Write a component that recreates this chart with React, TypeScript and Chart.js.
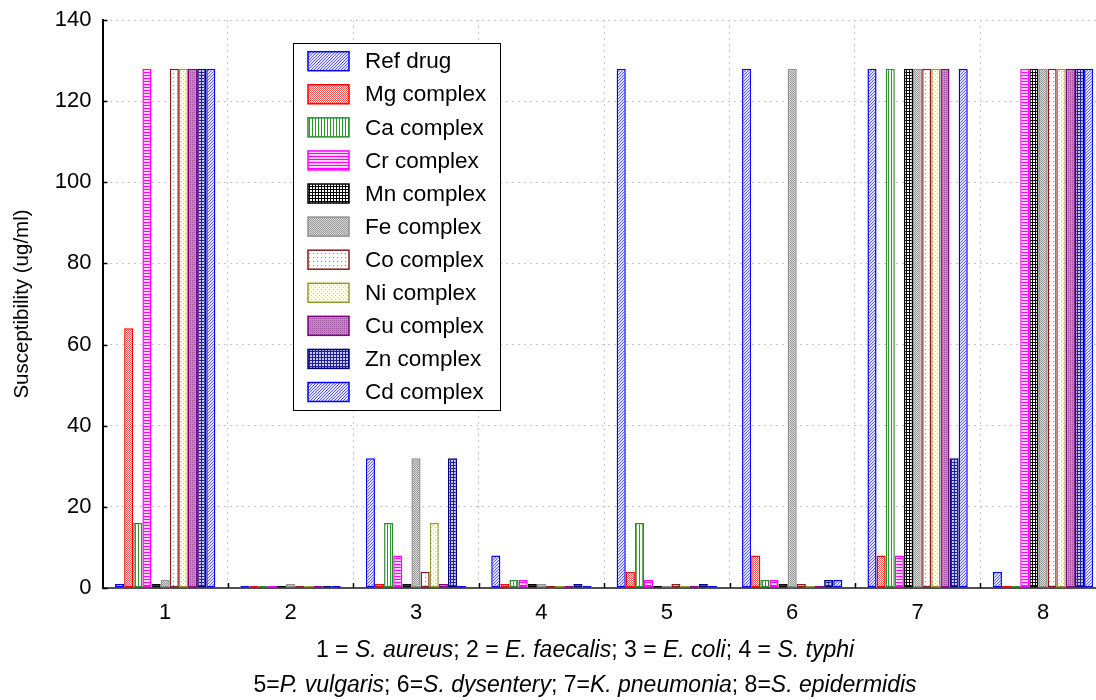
import React, { useEffect, useRef } from "react";
import { Chart, registerables } from "chart.js";

Chart.register(...registerables);

const categories = ["1", "2", "3", "4", "5", "6", "7", "8"];
const seriesLabels = [
  "Ref drug", "Mg complex", "Ca complex", "Cr complex", "Mn complex", "Fe complex",
  "Co complex", "Ni complex", "Cu complex", "Zn complex", "Cd complex",
];
const refDrug = [1, 0.5, 32, 8, 128, 128, 128, 4];
const mgComplex = [64, 0.5, 1, 1, 4, 8, 8, 0.5];
const caComplex = [16, 0.5, 16, 2, 16, 2, 128, 0.5];
const crComplex = [128, 0.5, 8, 2, 2, 2, 8, 128];
const mnComplex = [1, 0.5, 1, 1, 0.5, 1, 128, 128];
const feComplex = [2, 1, 32, 1, 0.5, 128, 128, 128];
const coComplex = [128, 0.5, 4, 0.5, 1, 1, 128, 128];
const niComplex = [128, 0.5, 16, 0.5, 0.5, 0.5, 128, 128];
const cuComplex = [128, 0.5, 1, 0.5, 0.5, 0.5, 128, 128];
const znComplex = [128, 0.5, 32, 1, 1, 2, 32, 128];
const cdComplex = [128, 0.5, 0.5, 0.5, 0.5, 2, 128, 128];
const seriesValues = [
  refDrug, mgComplex, caComplex, crComplex, mnComplex, feComplex,
  coComplex, niComplex, cuComplex, znComplex, cdComplex,
];
const yTitle = "Susceptibility (ug/ml)";
const xTitleLine1: [string, boolean][] = [
  ["1 = ", false], ["S. aureus", true], ["; 2 = ", false], ["E. faecalis", true],
  ["; 3 = ", false], ["E. coli", true], ["; 4 = ", false], ["S. typhi", true],
];
const xTitleLine2: [string, boolean][] = [
  ["5=", false], ["P. vulgaris", true], ["; 6=", false], ["S. dysentery", true],
  ["; 7=", false], ["K. pneumonia", true], ["; 8=", false], ["S. epidermidis", true],
];

const FONT = "'Liberation Sans', Arial, sans-serif";

function makePattern(size: number, bg: string, draw: (c: CanvasRenderingContext2D) => void) {
  const cv = document.createElement("canvas");
  cv.width = size;
  cv.height = size;
  const c = cv.getContext("2d")!;
  c.fillStyle = bg;
  c.fillRect(0, 0, size, size);
  draw(c);
  return c.createPattern(cv, "repeat")!;
}

function buildStyles() {
  const px = (c: CanvasRenderingContext2D, col: string, pts: number[][]) => {
    c.fillStyle = col;
    pts.forEach(([x, y]) => c.fillRect(x, y, 1, 1));
  };
  const diagBlue = () =>
    makePattern(3, "#e4e4ff", (c) => px(c, "#5a5aff", [[0, 2], [1, 1], [2, 0]]));
  const fills = [
    diagBlue(),
    makePattern(4, "#ffffff", (c) => px(c, "#ff5050", [[0, 0], [1, 1], [2, 2], [3, 3], [0, 2], [2, 0], [3, 1], [1, 3]])),
    makePattern(3, "#ffffff", (c) => { c.fillStyle = "#2e9a2e"; c.fillRect(0, 0, 1, 3); }),
    makePattern(3, "#ffd0ff", (c) => { c.fillStyle = "#ff00ff"; c.fillRect(0, 0, 3, 1); }),
    makePattern(3, "#ffffff", (c) => { c.fillStyle = "#000000"; c.fillRect(0, 0, 3, 1); c.fillRect(0, 0, 1, 3); }),
    makePattern(2, "#d8d8d8", (c) => px(c, "#9a9a9a", [[0, 0], [1, 1]])),
    makePattern(4, "#ffffff", (c) => px(c, "#c07070", [[1, 1]])),
    makePattern(4, "#ffffea", (c) => px(c, "#c8c880", [[1, 1], [3, 3]])),
    makePattern(2, "#c884c8", (c) => px(c, "#a050a0", [[0, 0]])),
    makePattern(3, "#c8c8f0", (c) => { c.fillStyle = "#202090"; c.fillRect(0, 0, 3, 1); c.fillRect(0, 0, 1, 3); }),
    diagBlue(),
  ];
  const borders = [
    "#0000ff", "#ff0000", "#2e8b2e", "#ff00ff", "#000000", "#909090",
    "#8b1a1a", "#999933", "#800080", "#000080", "#0000ff",
  ];
  return { fills, borders };
}

const overlayPlugin = {
  id: "overlay",
  afterDraw(chart: any) {
    const ctx = chart.ctx as CanvasRenderingContext2D;
    const ca = chart.chartArea;
    const yScale = chart.scales.y;
    ctx.save();
    // inward tick marks
    ctx.strokeStyle = "#000";
    ctx.lineWidth = 1.5;
    yScale.ticks.forEach((t: any) => {
      const y = Math.round(yScale.getPixelForValue(t.value)) + 0.5;
      ctx.beginPath();
      ctx.moveTo(ca.left, y);
      ctx.lineTo(ca.left + 5, y);
      ctx.stroke();
    });
    const n = categories.length;
    const step = (ca.right - ca.left) / n;
    for (let i = 1; i < n; i++) {
      const x = Math.round(ca.left + step * i) + 0.5;
      ctx.beginPath();
      ctx.moveTo(x, ca.bottom);
      ctx.lineTo(x, ca.bottom - 5);
      ctx.stroke();
    }
    // legend
    const lx = 293.5, ly = 43.5, lw = 207, lh = 367;
    ctx.fillStyle = "#fff";
    ctx.fillRect(lx, ly, lw, lh);
    ctx.strokeStyle = "#000";
    ctx.lineWidth = 1;
    ctx.strokeRect(lx, ly, lw, lh);
    chart.data.datasets.forEach((ds: any, i: number) => {
      const cy = 61.2 + 33.08 * i;
      ctx.fillStyle = ds.backgroundColor;
      ctx.fillRect(308, cy - 9.5, 41, 19);
      ctx.strokeStyle = ds.borderColor;
      ctx.lineWidth = 1.5;
      ctx.strokeRect(308, cy - 9.5, 41, 19);
      ctx.fillStyle = "#000";
      ctx.font = `22.5px ${FONT}`;
      ctx.textBaseline = "middle";
      ctx.textAlign = "left";
      ctx.fillText(ds.label, 365, cy + 1);
    });
    // x title (mixed italic)
    const drawLine = (segs: [string, boolean][], cx: number, cy: number) => {
      const fontFor = (it: boolean) => `${it ? "italic " : ""}23px ${FONT}`;
      let total = 0;
      segs.forEach(([s, it]) => { ctx.font = fontFor(it); total += ctx.measureText(s).width; });
      let x = cx - total / 2;
      ctx.fillStyle = "#000";
      ctx.textBaseline = "middle";
      ctx.textAlign = "left";
      segs.forEach(([s, it]) => {
        ctx.font = fontFor(it);
        ctx.fillText(s, x, cy);
        x += ctx.measureText(s).width;
      });
    };
    drawLine(xTitleLine1, 585, 651);
    drawLine(xTitleLine2, 585, 686);
    ctx.restore();
  },
};

export default function App() {
  const ref = useRef<HTMLCanvasElement | null>(null);
  useEffect(() => {
    if (!ref.current) return;
    const { fills, borders } = buildStyles();
    const chart = new Chart(ref.current, {
      type: "bar",
      data: {
        labels: categories,
        datasets: seriesValues.map((vals, i) => ({
          label: seriesLabels[i],
          data: vals,
          backgroundColor: fills[i] as any,
          borderColor: borders[i],
          borderWidth: 1.5,
          borderSkipped: false,
          categoryPercentage: 0.8,
          barPercentage: 1.0,
        })),
      },
      options: {
        responsive: false,
        animation: false,
        devicePixelRatio: 1,
        layout: { padding: { left: 0, right: 4.3, top: 20, bottom: 0 } },
        plugins: {
          legend: { display: false },
          tooltip: { enabled: false },
        },
        scales: {
          x: {
            grid: { color: "#c8c8c8", lineWidth: 1, drawTicks: false, offset: true },
            border: { color: "#505050", width: 2, dash: [2, 4] },
            ticks: { color: "#000", font: { family: FONT, size: 22 }, padding: 12 },
            afterFit: (s: any) => { s.height = 112; s.paddingLeft = 0; s.paddingRight = 0; },
          },
          y: {
            min: 0,
            max: 140,
            ticks: { stepSize: 20, color: "#000", font: { family: FONT, size: 22 }, padding: 11 },
            grid: { color: "#c8c8c8", lineWidth: 1, drawTicks: false },
            border: { color: "#000", width: 2, dash: [2, 4] },
            title: {
              display: true,
              text: yTitle,
              color: "#000",
              font: { family: FONT, size: 20.5 },
              padding: { top: 10, bottom: 0 },
            },
            afterFit: (s: any) => { s.width = 102.5; s.paddingTop = 0; s.paddingBottom = 0; },
          },
        },
      },
      plugins: [overlayPlugin],
    });
    return () => chart.destroy();
  }, []);
  return (
    <div style={{ position: "fixed", left: 0, top: 0, width: 1096, height: 700, overflow: "hidden", background: "#fff" }}>
      <canvas ref={ref} width={1110} height={700} style={{ display: "block" }} />
    </div>
  );
}
